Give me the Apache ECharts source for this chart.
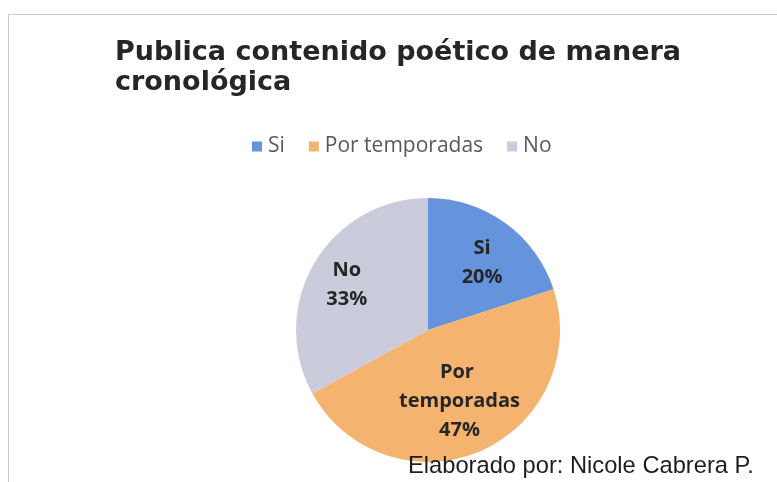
<!DOCTYPE html>
<html>
<head>
<meta charset="utf-8">
<script src="https://cdn.jsdelivr.net/npm/echarts@6/dist/echarts.min.js"></script>
<style>
html,body{margin:0;padding:0;background:#fff;}
#c{width:777px;height:482px;}
</style>
</head>
<body>
<div id="c"></div>
<script>
const titleText = 'Publica contenido poético de manera\ncronológica';
const categories = ['Si', 'Por temporadas', 'No'];
const values = [20, 47, 33];
const colors = ['#6694dc', '#f4b46f', '#caccdc'];
const footerText = 'Elaborado por: Nicole Cabrera P.';

const data = categories.map((n, i) => ({ name: n, value: values[i], itemStyle: { color: colors[i] } }));
const labelShift = { 'Si': [0, 7], 'Por temporadas': [-5, -13], 'No': [-2, 2] };

const chart = echarts.init(document.getElementById('c'), null, { renderer: 'canvas' });
chart.setOption({
  animation: false,
  backgroundColor: '#ffffff',
  title: {
    text: titleText,
    left: 110,
    top: 33,
    textStyle: {
      fontFamily: 'DejaVu Sans',
      fontWeight: 'bold',
      fontSize: 27,
      lineHeight: 30,
      color: '#262626'
    }
  },
  legend: {
    data: categories,
    left: 247,
    top: 131,
    itemWidth: 10,
    itemHeight: 10,
    itemGap: 24,
    icon: 'rect',
    selectedMode: false,
    textStyle: { fontFamily: 'Open Sans', fontSize: 21, color: '#595959', padding: [0, 0, 0, 1] }
  },
  graphic: [
    {
      type: 'rect', z: 0, silent: true,
      shape: { x: 8.5, y: 14.5, width: 900, height: 600 },
      style: { fill: 'none', stroke: '#c8c8c8', lineWidth: 1 }
    },
    {
      type: 'text', z: 100, silent: true,
      x: 408, y: 466,
      style: {
        text: footerText,
        font: '23.7px "Liberation Sans", Arial, sans-serif',
        fill: '#1e1e1e',
        verticalAlign: 'middle'
      }
    }
  ],
  series: [
    {
      type: 'pie',
      center: [428, 330],
      radius: [0, 50],
      startAngle: 90,
      silent: true,
      label: { show: false },
      labelLine: { show: false },
      itemStyle: { borderWidth: 0 },
      data: data
    },
    {
      type: 'pie',
      center: [428, 330],
      radius: [46, 132],
      startAngle: 90,
      silent: true,
      itemStyle: { borderWidth: 0 },
      label: {
        show: true,
        position: 'inside',
        formatter: '{b}\n{d}%',
        width: 130,
        overflow: 'break',
        fontFamily: 'Open Sans',
        fontWeight: 'bold',
        fontSize: 20,
        lineHeight: 29,
        color: '#262626'
      },
      labelLayout: function (p) {
        const s = labelShift[categories[p.dataIndex]] || [0, 0];
        return { dx: s[0], dy: s[1] };
      },
      labelLine: { show: false },
      data: data
    }
  ]
});
</script>
</body>
</html>
